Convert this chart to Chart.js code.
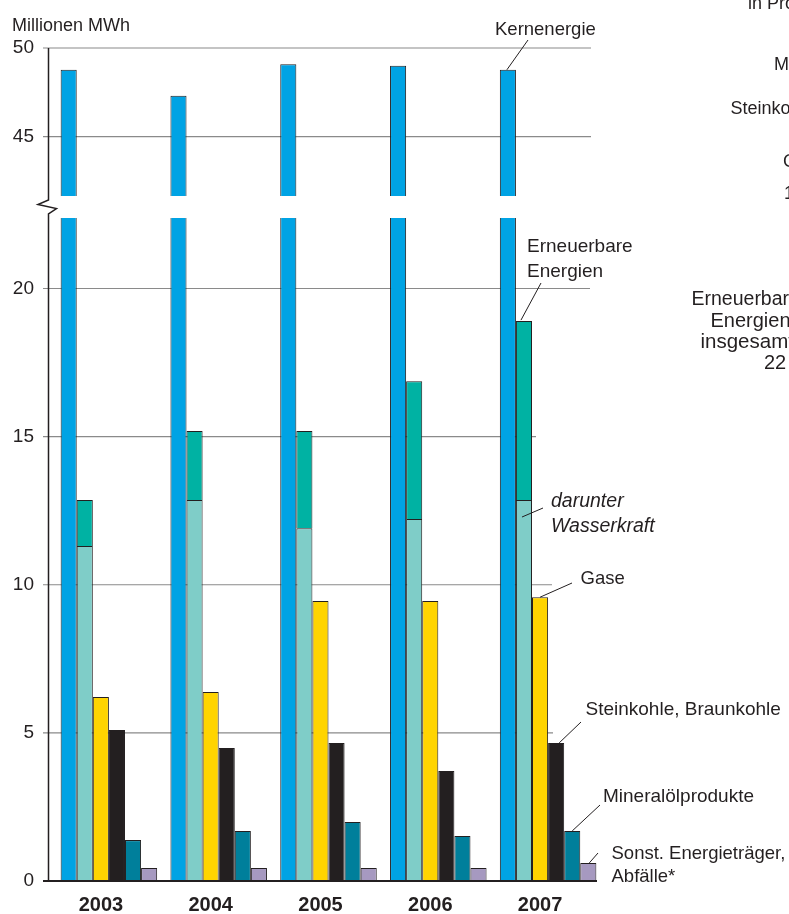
<!DOCTYPE html>
<html lang="de">
<head>
<meta charset="UTF-8" />
<title>Stromerzeugung nach Energieträgern</title>
<style>
  body { margin: 0; background: #fff; }
  .wrap { position: relative; width: 789px; height: 914px; overflow: hidden; }
  .wrap canvas { position: absolute; left: 0; top: 0; }
</style>
</head>
<body>
<div class="wrap">
  <canvas id="unten" width="789" height="914"></canvas>
  <canvas id="oben" width="789" height="914"></canvas>
</div>
<script src="https://cdn.jsdelivr.net/npm/chart.js@4.4.1/dist/chart.umd.min.js"></script>
<script>
// Millionen MWh
const jahre = ['2003', '2004', '2005', '2006', '2007'];
const kernenergie = [48.77, 47.3, 49.08, 49.0, 48.77];
const erneuerbare = [12.86, 15.19, 15.19, 16.87, 18.9];
const wasserkraft = [11.31, 12.86, 11.91, 12.22, 12.86];
const gase = [6.21, 6.38, 9.45, 9.45, 9.58];
const kohle = [5.1, 4.49, 4.66, 3.71, 4.66];
const mineraloel = [1.38, 1.69, 1.99, 1.52, 1.69];
const sonstige = [0.44, 0.44, 0.44, 0.44, 0.61];

const ticksOben = [45, 50];
const ticksUnten = [0, 5, 10, 15, 20];

const INK = '#231f20';
const FONT = "'Liberation Sans', Arial, sans-serif";
Chart.defaults.font.family = FONT;
Chart.defaults.color = INK;

function line(ctx, pts) {
  ctx.beginPath();
  pts.forEach(([x, y], i) => (i ? ctx.lineTo(x, y) : ctx.moveTo(x, y)));
  ctx.stroke();
}

function balken() {
  const rest = erneuerbare.map((v, i) => +(v - wasserkraft[i]).toFixed(2));
  return [
    ['Kernenergie', kernenergie, '#00a3e4', 'k'],
    ['darunter Wasserkraft', wasserkraft, '#7fcdc8', 'e'],
    ['Erneuerbare Energien', rest, '#00b2a3', 'e'],
    ['Gase', gase, '#ffd400', 'g'],
    ['Steinkohle, Braunkohle', kohle, INK, 's'],
    ['Mineralölprodukte', mineraloel, '#007f9b', 'm'],
    ['Sonst. Energieträger, Abfälle*', sonstige, '#a699c0', 'o']
  ].map(([label, data, farbe, stack]) => ({
    label, data, stack,
    backgroundColor: farbe,
    borderColor: INK,
    borderWidth: 1,
    clip: 0,
    barPercentage: 1,
    categoryPercentage: 0.879
  }));
}

// Beschriftungen mit Hinweislinie zum Balken 2007
const notizenOben = [
  { ds: 0, text: ['Kernenergie'], x: 495, y: 35, von: [528, 40], dx: -1, dy: 0, size: 18.5 }
];
const notizenUnten = [
  { ds: 2, text: ['Erneuerbare', 'Energien'], x: 527, y: 251.5, von: [541, 283], dx: -3, dy: -1, size: 19 },
  { ds: 1, text: ['darunter', 'Wasserkraft'], x: 551, y: 506.5, von: [543, 508], dx: -2, dy: 17, size: 19.5, kursiv: true },
  { ds: 3, text: ['Gase'], x: 580.5, y: 583.5, von: [572, 583], dx: 0, dy: 0, size: 18.5 },
  { ds: 4, text: ['Steinkohle, Braunkohle'], x: 585.5, y: 715, von: [581, 722], dx: 3, dy: 0, size: 19 },
  { ds: 5, text: ['Mineralölprodukte'], x: 603, y: 801.5, von: [600, 805], dx: 0, dy: 0, size: 19 },
  { ds: 6, text: ['Sonst. Energieträger,', 'Abfälle*'], x: 611.5, y: 858.5, von: [598, 853], dx: 1, dy: 0, size: 18.5, zeile: 23.5 }
];
// freie Texte: [Text, x, y, Größe]
const texte = [
  ['Millionen MWh', 12, 30.5, 18],
  ['in Prozent', 748, 8.5, 18],
  ['Mineralölprodukte', 774, 70, 18],
  ['Steinkohle, Braunkohle', 730.5, 113.5, 18],
  ['Gase', 783, 166.5, 18],
  ['1', 784, 198.5, 18],
  ['Erneuerbare', 691.5, 305, 19.5],
  ['Energien', 710.5, 326.5, 20],
  ['insgesamt', 700.5, 348, 20.5],
  ['22', 764, 369, 20]
];

function deko(cfg) {
  return {
    id: 'deko',
    beforeDatasetsDraw(chart) {
      const ctx = chart.ctx, y = chart.scales.y;
      ctx.save();
      ctx.strokeStyle = '#8a8a8a';
      ctx.lineWidth = 1.2;
      cfg.gitter.forEach(([v, x2]) => {
        const py = y.getPixelForValue(v);
        line(ctx, [[43, py], [x2, py]]);
      });
      ctx.restore();
    },
    afterDatasetsDraw(chart) {
      const ctx = chart.ctx, y = chart.scales.y;
      ctx.save();
      ctx.strokeStyle = INK;
      ctx.fillStyle = INK;
      if (cfg.nulllinie) {
        ctx.lineWidth = 2;
        const py = y.getPixelForValue(0);
        line(ctx, [[43, py], [597, py]]);
      }
      ctx.lineWidth = 1.5;
      line(ctx, cfg.achse);
      cfg.notizen.forEach(n => {
        const el = chart.getDatasetMeta(n.ds).data[jahre.length - 1];
        ctx.lineWidth = 1;
        line(ctx, [n.von, [el.x + n.dx, el.y + n.dy]]);
        ctx.font = (n.kursiv ? 'italic ' : '') + n.size + 'px ' + FONT;
        n.text.forEach((t, i) => ctx.fillText(t, n.x, n.y + i * (n.zeile || 25)));
      });
      (cfg.texte || []).forEach(([t, x, ty, size]) => {
        ctx.font = size + 'px ' + FONT;
        ctx.fillText(t, x, ty);
      });
      ctx.restore();
    }
  };
}

function yAchse(min, max, werte) {
  return {
    stacked: true,
    min, max,
    grid: { display: false, drawTicks: false },
    border: { display: false },
    afterBuildTicks: s => { s.ticks = werte.map(value => ({ value })); },
    afterFit: s => { s.width = 54; },
    ticks: { padding: 20, font: { size: 19 }, color: INK }
  };
}

function diagramm(id, x, y, padding, plugin) {
  return new Chart(document.getElementById(id), {
    type: 'bar',
    data: { labels: jahre, datasets: balken() },
    options: {
      responsive: false,
      animation: false,
      layout: { padding },
      plugins: { legend: { display: false }, tooltip: { enabled: false } },
      scales: { x, y }
    },
    plugins: [plugin]
  });
}

// unterer Teil: 0 bis zum Achsenbruch
diagramm('unten',
  {
    stacked: true,
    grid: { display: false, drawTicks: false },
    border: { display: false },
    ticks: { font: { size: 20, weight: 'bold' }, color: INK, padding: 12, labelOffset: -8, maxRotation: 0 },
    afterFit: s => { s.height = 33; }
  },
  yAchse(0, 22.38, ticksUnten),
  { top: 218, right: 186, bottom: 0, left: 0 },
  deko({
    gitter: [[5, 553], [10, 552], [15, 536], [20, 590]],
    nulllinie: true,
    achse: [[48.5, 196], [48.5, 200], [38, 204.5], [56.5, 208.5], [48.5, 214], [48.5, 881]],
    notizen: notizenUnten,
    texte
  })
);

// oberer Teil oberhalb des Achsenbruchs
diagramm('oben',
  { stacked: true, display: false },
  yAchse(41.65, 50, ticksOben),
  { top: 48, right: 186, bottom: 718, left: 0 },
  deko({
    gitter: [[45, 591], [50, 591]],
    achse: [[48.5, 48], [48.5, 196]],
    notizen: notizenOben
  })
);
</script>
</body>
</html>
